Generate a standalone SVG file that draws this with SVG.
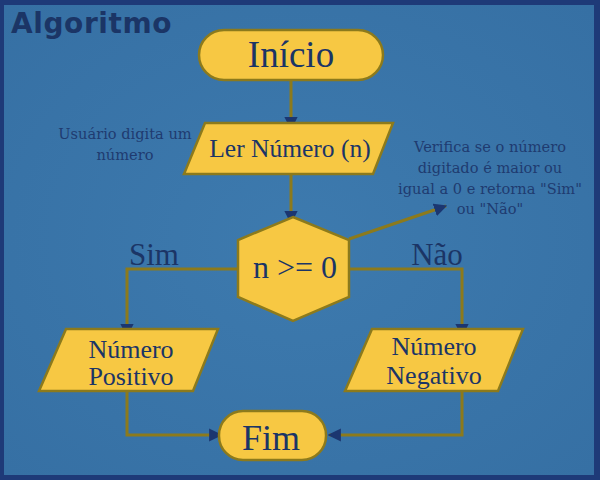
<svg xmlns="http://www.w3.org/2000/svg" width="600" height="480" viewBox="0 0 600 480">
<defs>
<radialGradient id="bg" cx="50%" cy="50%" r="70%">
<stop offset="0" stop-color="#3d7aae"/>
<stop offset="1" stop-color="#3670a4"/>
</radialGradient>
<marker id="ah" viewBox="0 0 10 10" refX="9" refY="5" markerWidth="4.4" markerHeight="4.4" markerUnits="strokeWidth" orient="auto">
<path d="M0,0 L10,5 L0,10 Z" fill="#1b3670"/>
</marker>
<style>
.node{fill:#f7c843;stroke:#8c7a1c;stroke-width:2.5}
.lbl{font-family:"Liberation Serif","DejaVu Serif",serif;fill:#1b3566;text-anchor:middle}
.note{font-family:"DejaVu Serif","Liberation Serif",serif;fill:#1f3b70;text-anchor:middle;font-size:14.6px}
.edge{fill:none;stroke:#8c7a1c;stroke-width:3;marker-end:url(#ah)}
</style>
</defs>
<rect x="0" y="0" width="600" height="480" fill="#1e3a78"/>
<rect x="4" y="5" width="590" height="470" fill="url(#bg)"/>
<text x="11" y="33" font-family="DejaVu Sans" font-weight="bold" font-size="28" letter-spacing="0.6" fill="#1b3566">Algoritmo</text>

<g id="connectors">
<path class="edge" d="M291,80 L291,129"/>
<path class="edge" d="M291,174 L291,223"/>
<path class="edge" d="M238,269 L127,269 L127,336"/>
<path class="edge" d="M349,269 L462,269 L462,336"/>
<path class="edge" d="M349,239 L446,206"/>
<path class="edge" d="M127,391 L127,435 L221,435"/>
<path class="edge" d="M462,391 L462,435 L329,435"/>
</g>

<g id="inicio">
<rect class="node" x="199" y="30" width="184" height="50" rx="25"/>
<text class="lbl" x="291" y="67" font-size="37">Início</text>
</g>
<g id="ler">
<polygon class="node" points="205,123 393,123 373,174 184,174"/>
<text class="lbl" x="290" y="157" font-size="25.5">Ler Número (n)</text>
</g>
<g id="decisao">
<polygon class="node" points="293,217 349,240 349,297 293,321 238,297 238,240"/>
<text class="lbl" x="295" y="278" font-size="32">n &gt;= 0</text>
</g>
<g id="positivo">
<polygon class="node" points="66,329 218,329 193,391 39,391"/>
<text class="lbl" x="131" y="358" font-size="26">Número</text>
<text class="lbl" x="131" y="385" font-size="26">Positivo</text>
</g>
<g id="negativo">
<polygon class="node" points="372,329 523,329 498,391 345,391"/>
<text class="lbl" x="434" y="355" font-size="26">Número</text>
<text class="lbl" x="434" y="384" font-size="26">Negativo</text>
</g>
<g id="fim">
<rect class="node" x="219" y="411" width="107" height="49" rx="24"/>
<text class="lbl" x="271" y="450" font-size="36">Fim</text>
</g>

<text class="lbl" x="154" y="265" font-size="31">Sim</text>
<text class="lbl" x="437" y="265" font-size="31">Não</text>
<text class="note" x="125" y="139">Usuário digita um</text>
<text class="note" x="125" y="160">número</text>
<text class="note" x="490" y="152">Verifica se o número</text>
<text class="note" x="490" y="173">digitado é maior ou</text>
<text class="note" x="490" y="194">igual a 0 e retorna "Sim"</text>
<text class="note" x="490" y="214">ou "Não"</text>
</svg>
